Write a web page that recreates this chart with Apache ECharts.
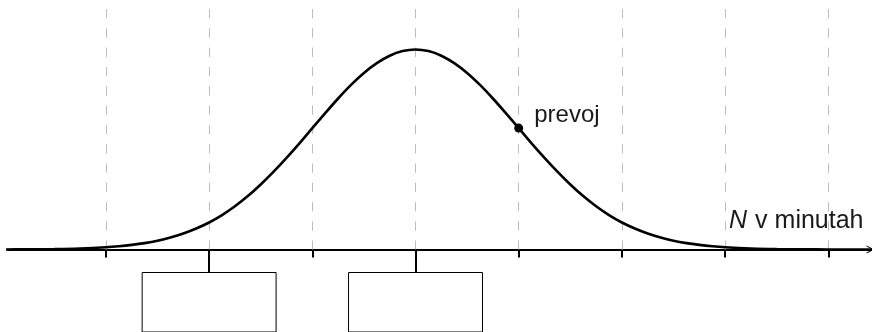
<!DOCTYPE html>
<html>
<head>
<meta charset="utf-8">
<script src="https://cdn.jsdelivr.net/npm/echarts@6/dist/echarts.min.js"></script>
<style>
  html, body { margin: 0; padding: 0; background: #fff; }
  #chart { width: 872px; height: 332px; }
</style>
</head>
<body>
<div id="chart"></div>
<script>
// Horizontal axis in standard-deviation units around the mean (0).
const tickValues = [-3, -2, -1, 0, 1, 2, 3, 4];
// Ticks that carry an empty answer box underneath.
const boxTicks = [-2, 0];

// Bell curve, relative height (peak = 1).
const curveX = [-4.5, -4.25, -4, -3.75, -3.5, -3.25, -3,
                -2.875, -2.75, -2.625, -2.5, -2.375, -2.25, -2.125, -2,
                -1.875, -1.75, -1.625, -1.5, -1.375, -1.25, -1.125, -1,
                -0.875, -0.75, -0.625, -0.5, -0.375, -0.25, -0.125, 0,
                0.125, 0.25, 0.375, 0.5, 0.625, 0.75, 0.875, 1,
                1.125, 1.25, 1.375, 1.5, 1.625, 1.75, 1.875, 2,
                2.125, 2.25, 2.375, 2.5, 2.625, 2.75, 2.875, 3,
                3.25, 3.5, 3.75, 4, 4.25, 4.5];
const curveY = [0.000, 0.000, 0.000, 0.001, 0.002, 0.005, 0.011,
                0.016, 0.023, 0.032, 0.044, 0.060, 0.080, 0.105, 0.135,
                0.172, 0.216, 0.267, 0.325, 0.389, 0.458, 0.531, 0.607,
                0.682, 0.755, 0.823, 0.883, 0.932, 0.969, 0.992, 1.000,
                0.992, 0.969, 0.932, 0.883, 0.823, 0.755, 0.682, 0.607,
                0.531, 0.458, 0.389, 0.325, 0.267, 0.216, 0.172, 0.135,
                0.105, 0.080, 0.060, 0.044, 0.032, 0.023, 0.016, 0.011,
                0.005, 0.002, 0.001, 0.000, 0.000, 0.000];

// Inflection point on the right flank.
const inflection = [1, 0.607];
const inflectionLabel = 'prevoj';

const axisName = 'v minutah';
const axisVar = 'N';

// Drawing constants
const gridTop = 1.2025;      // top of the dashed guide lines
const boxTop = -0.115;       // top edge of the answer boxes
const boxHalf = 0.649;       // half width of an answer box

const chart = echarts.init(document.getElementById('chart'), null, { renderer: 'canvas' });

const guideLines = tickValues.map(v => [
  { coord: [v, gridTop] },
  { coord: [v, 0] }
]);
const longTicks = boxTicks.map(v => [
  { coord: [v, 0], lineStyle: { color: '#000', width: 2, type: 'solid' } },
  { coord: [v, boxTop] }
]);
const boxes = boxTicks.map(v => [
  { coord: [v - boxHalf, boxTop] },
  { coord: [v + boxHalf, -0.6] }
]);

const font = '"Liberation Sans", Arial, sans-serif';

chart.setOption({
  animation: false,
  grid: { left: 8, right: 1.5, top: 0, bottom: 0, containLabel: false },
  xAxis: {
    type: 'value',
    min: -3.949,
    max: 4.409,
    position: 'bottom',
    axisLine: {
      onZero: true,
      lineStyle: { color: '#000', width: 2 },
      symbol: ['none', 'path://M0,10 L5,0 L10,10 L8.6,10 L5,2.8 L1.4,10 Z'],
      symbolSize: [14, 8],
      symbolOffset: [0, 0]
    },
    axisTick: {
      show: true,
      inside: false,
      length: 8,
      customValues: tickValues,
      lineStyle: { color: '#000', width: 2 }
    },
    axisLabel: { show: false },
    splitLine: { show: false },
    name: '{i|' + axisVar + '}{t| ' + axisName + '}',
    nameLocation: 'end',
    nameGap: -7,
    nameTextStyle: {
      align: 'right',
      verticalAlign: 'bottom',
      padding: [0, 0, 16, 0],
      rich: {
        i: { fontFamily: font, fontSize: 25, fontStyle: 'italic', color: '#1a1a1a', padding: [0, 1, 0, 0] },
        t: { fontFamily: font, fontSize: 25, color: '#1a1a1a' }
      }
    }
  },
  yAxis: {
    type: 'value',
    min: -0.4125,
    max: 1.2475,
    show: false,
    splitLine: { show: false }
  },
  series: [
    {
      type: 'line',
      data: curveX.map((x, i) => [x, curveY[i]]),
      smooth: 0.3,
      showSymbol: false,
      z: 5,
      lineStyle: { color: '#000', width: 2.6 },
      markLine: {
        silent: true,
        symbol: ['none', 'none'],
        label: { show: false },
        lineStyle: { color: '#bdbdbd', width: 1, type: [9.3, 10], dashOffset: 0 },
        data: guideLines.concat(longTicks)
      },
      markArea: {
        silent: true,
        itemStyle: { color: 'rgba(0,0,0,0)', borderColor: '#000', borderWidth: 1 },
        label: { show: false },
        data: boxes
      }
    },
    {
      type: 'scatter',
      data: [inflection],
      symbol: 'circle',
      symbolSize: 9,
      z: 6,
      itemStyle: { color: '#000', opacity: 1 },
      label: {
        show: true,
        position: 'right',
        distance: 11,
        offset: [0, -13],
        formatter: inflectionLabel,
        fontFamily: font,
        fontSize: 24,
        color: '#1a1a1a'
      }
    }
  ]
});
</script>
</body>
</html>
